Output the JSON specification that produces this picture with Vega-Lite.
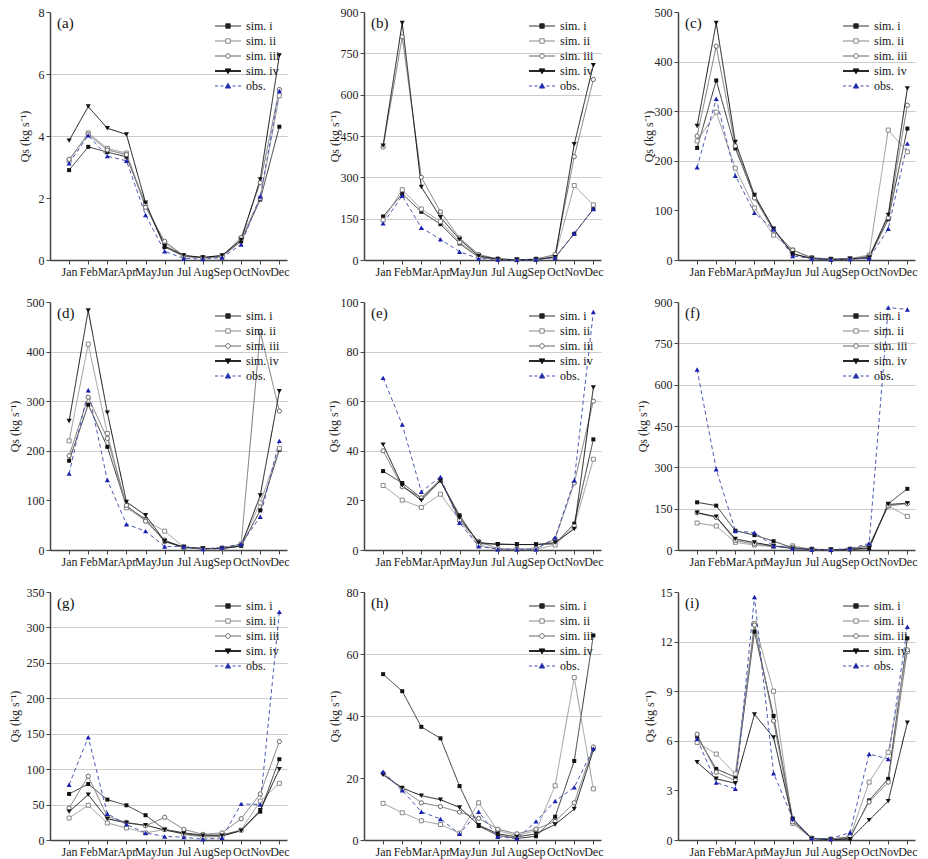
{
"$schema":"https://vega.github.io/schema/vega-lite/v6.json",
"background":"white",
"padding":{"left":8,"top":6,"right":2,"bottom":2},
"config":{
 "font":"Liberation Serif",
 "view":{"stroke":null},
 "axis":{"labelFont":"Liberation Serif","labelFontSize":12,"labelColor":"#222","titleFont":"Liberation Serif","titleFontSize":12,"titleFontWeight":"normal","titleColor":"#222","domainColor":"#444","domainWidth":1.5,"tickColor":"#444","tickSize":4,"labelPadding":2,"titlePadding":5,"labelFlush":false,"labelOverlap":false,"gridColor":"#cccccc","gridWidth":1},
 "legend":{"orient":"top-right","offset":7,"padding":0,"labelFont":"Liberation Serif","labelFontSize":12,"labelColor":"#111","symbolSize":169,"symbolStrokeWidth":1,"symbolOpacity":1,"labelOffset":11,"rowPadding":2}
},
"datasets":{
"a":[
{"m":1,"s":"sim. i","v":2.9},{"m":2,"s":"sim. i","v":3.65},{"m":3,"s":"sim. i","v":3.48},{"m":4,"s":"sim. i","v":3.33},{"m":5,"s":"sim. i","v":1.8},{"m":6,"s":"sim. i","v":0.42},{"m":7,"s":"sim. i","v":0.12},{"m":8,"s":"sim. i","v":0.07},{"m":9,"s":"sim. i","v":0.12},{"m":10,"s":"sim. i","v":0.6},{"m":11,"s":"sim. i","v":1.95},{"m":12,"s":"sim. i","v":4.3},
{"m":1,"s":"sim. ii","v":3.2},{"m":2,"s":"sim. ii","v":4.1},{"m":3,"s":"sim. ii","v":3.6},{"m":4,"s":"sim. ii","v":3.45},{"m":5,"s":"sim. ii","v":1.75},{"m":6,"s":"sim. ii","v":0.55},{"m":7,"s":"sim. ii","v":0.12},{"m":8,"s":"sim. ii","v":0.07},{"m":9,"s":"sim. ii","v":0.1},{"m":10,"s":"sim. ii","v":0.7},{"m":11,"s":"sim. ii","v":2.0},{"m":12,"s":"sim. ii","v":5.3},
{"m":1,"s":"sim. iii","v":3.25},{"m":2,"s":"sim. iii","v":4.05},{"m":3,"s":"sim. iii","v":3.55},{"m":4,"s":"sim. iii","v":3.4},{"m":5,"s":"sim. iii","v":1.7},{"m":6,"s":"sim. iii","v":0.6},{"m":7,"s":"sim. iii","v":0.14},{"m":8,"s":"sim. iii","v":0.08},{"m":9,"s":"sim. iii","v":0.12},{"m":10,"s":"sim. iii","v":0.72},{"m":11,"s":"sim. iii","v":2.5},{"m":12,"s":"sim. iii","v":5.5},
{"m":1,"s":"sim. iv","v":3.85},{"m":2,"s":"sim. iv","v":4.95},{"m":3,"s":"sim. iv","v":4.25},{"m":4,"s":"sim. iv","v":4.05},{"m":5,"s":"sim. iv","v":1.85},{"m":6,"s":"sim. iv","v":0.45},{"m":7,"s":"sim. iv","v":0.15},{"m":8,"s":"sim. iv","v":0.08},{"m":9,"s":"sim. iv","v":0.15},{"m":10,"s":"sim. iv","v":0.65},{"m":11,"s":"sim. iv","v":2.6},{"m":12,"s":"sim. iv","v":6.6},
{"m":1,"s":"obs.","v":3.12},{"m":2,"s":"obs.","v":4.02},{"m":3,"s":"obs.","v":3.35},{"m":4,"s":"obs.","v":3.2},{"m":5,"s":"obs.","v":1.45},{"m":6,"s":"obs.","v":0.28},{"m":7,"s":"obs.","v":0.05},{"m":8,"s":"obs.","v":0.03},{"m":9,"s":"obs.","v":0.08},{"m":10,"s":"obs.","v":0.5},{"m":11,"s":"obs.","v":2.05},{"m":12,"s":"obs.","v":5.45}
],
"b":[
{"m":1,"s":"sim. i","v":158},{"m":2,"s":"sim. i","v":240},{"m":3,"s":"sim. i","v":175},{"m":4,"s":"sim. i","v":130},{"m":5,"s":"sim. i","v":60},{"m":6,"s":"sim. i","v":10},{"m":7,"s":"sim. i","v":3},{"m":8,"s":"sim. i","v":1},{"m":9,"s":"sim. i","v":2},{"m":10,"s":"sim. i","v":10},{"m":11,"s":"sim. i","v":95},{"m":12,"s":"sim. i","v":185},
{"m":1,"s":"sim. ii","v":145},{"m":2,"s":"sim. ii","v":255},{"m":3,"s":"sim. ii","v":185},{"m":4,"s":"sim. ii","v":140},{"m":5,"s":"sim. ii","v":65},{"m":6,"s":"sim. ii","v":12},{"m":7,"s":"sim. ii","v":3},{"m":8,"s":"sim. ii","v":1},{"m":9,"s":"sim. ii","v":3},{"m":10,"s":"sim. ii","v":15},{"m":11,"s":"sim. ii","v":270},{"m":12,"s":"sim. ii","v":200},
{"m":1,"s":"sim. iii","v":410},{"m":2,"s":"sim. iii","v":810},{"m":3,"s":"sim. iii","v":300},{"m":4,"s":"sim. iii","v":175},{"m":5,"s":"sim. iii","v":80},{"m":6,"s":"sim. iii","v":20},{"m":7,"s":"sim. iii","v":4},{"m":8,"s":"sim. iii","v":1},{"m":9,"s":"sim. iii","v":3},{"m":10,"s":"sim. iii","v":20},{"m":11,"s":"sim. iii","v":375},{"m":12,"s":"sim. iii","v":655},
{"m":1,"s":"sim. iv","v":415},{"m":2,"s":"sim. iv","v":860},{"m":3,"s":"sim. iv","v":265},{"m":4,"s":"sim. iv","v":155},{"m":5,"s":"sim. iv","v":75},{"m":6,"s":"sim. iv","v":15},{"m":7,"s":"sim. iv","v":3},{"m":8,"s":"sim. iv","v":1},{"m":9,"s":"sim. iv","v":2},{"m":10,"s":"sim. iv","v":10},{"m":11,"s":"sim. iv","v":420},{"m":12,"s":"sim. iv","v":707},
{"m":1,"s":"obs.","v":133},{"m":2,"s":"obs.","v":233},{"m":3,"s":"obs.","v":117},{"m":4,"s":"obs.","v":75},{"m":5,"s":"obs.","v":30},{"m":6,"s":"obs.","v":5},{"m":7,"s":"obs.","v":2},{"m":8,"s":"obs.","v":1},{"m":9,"s":"obs.","v":2},{"m":10,"s":"obs.","v":8},{"m":11,"s":"obs.","v":97},{"m":12,"s":"obs.","v":185}
],
"c":[
{"m":1,"s":"sim. i","v":226},{"m":2,"s":"sim. i","v":362},{"m":3,"s":"sim. i","v":225},{"m":4,"s":"sim. i","v":128},{"m":5,"s":"sim. i","v":62},{"m":6,"s":"sim. i","v":12},{"m":7,"s":"sim. i","v":3},{"m":8,"s":"sim. i","v":1},{"m":9,"s":"sim. i","v":2},{"m":10,"s":"sim. i","v":4},{"m":11,"s":"sim. i","v":82},{"m":12,"s":"sim. i","v":265},
{"m":1,"s":"sim. ii","v":240},{"m":2,"s":"sim. ii","v":298},{"m":3,"s":"sim. ii","v":185},{"m":4,"s":"sim. ii","v":105},{"m":5,"s":"sim. ii","v":50},{"m":6,"s":"sim. ii","v":20},{"m":7,"s":"sim. ii","v":5},{"m":8,"s":"sim. ii","v":2},{"m":9,"s":"sim. ii","v":3},{"m":10,"s":"sim. ii","v":10},{"m":11,"s":"sim. ii","v":262},{"m":12,"s":"sim. ii","v":218},
{"m":1,"s":"sim. iii","v":250},{"m":2,"s":"sim. iii","v":431},{"m":3,"s":"sim. iii","v":230},{"m":4,"s":"sim. iii","v":125},{"m":5,"s":"sim. iii","v":60},{"m":6,"s":"sim. iii","v":20},{"m":7,"s":"sim. iii","v":4},{"m":8,"s":"sim. iii","v":1},{"m":9,"s":"sim. iii","v":2},{"m":10,"s":"sim. iii","v":8},{"m":11,"s":"sim. iii","v":85},{"m":12,"s":"sim. iii","v":312},
{"m":1,"s":"sim. iv","v":270},{"m":2,"s":"sim. iv","v":478},{"m":3,"s":"sim. iv","v":238},{"m":4,"s":"sim. iv","v":131},{"m":5,"s":"sim. iv","v":63},{"m":6,"s":"sim. iv","v":13},{"m":7,"s":"sim. iv","v":3},{"m":8,"s":"sim. iv","v":1},{"m":9,"s":"sim. iv","v":2},{"m":10,"s":"sim. iv","v":5},{"m":11,"s":"sim. iv","v":91},{"m":12,"s":"sim. iv","v":346},
{"m":1,"s":"obs.","v":187},{"m":2,"s":"obs.","v":325},{"m":3,"s":"obs.","v":170},{"m":4,"s":"obs.","v":95},{"m":5,"s":"obs.","v":62},{"m":6,"s":"obs.","v":8},{"m":7,"s":"obs.","v":3},{"m":8,"s":"obs.","v":1},{"m":9,"s":"obs.","v":2},{"m":10,"s":"obs.","v":3},{"m":11,"s":"obs.","v":63},{"m":12,"s":"obs.","v":235}
],
"d":[
{"m":1,"s":"sim. i","v":180},{"m":2,"s":"sim. i","v":293},{"m":3,"s":"sim. i","v":208},{"m":4,"s":"sim. i","v":88},{"m":5,"s":"sim. i","v":62},{"m":6,"s":"sim. i","v":17},{"m":7,"s":"sim. i","v":5},{"m":8,"s":"sim. i","v":2},{"m":9,"s":"sim. i","v":3},{"m":10,"s":"sim. i","v":8},{"m":11,"s":"sim. i","v":80},{"m":12,"s":"sim. i","v":202},
{"m":1,"s":"sim. ii","v":220},{"m":2,"s":"sim. ii","v":415},{"m":3,"s":"sim. ii","v":235},{"m":4,"s":"sim. ii","v":85},{"m":5,"s":"sim. ii","v":60},{"m":6,"s":"sim. ii","v":38},{"m":7,"s":"sim. ii","v":6},{"m":8,"s":"sim. ii","v":3},{"m":9,"s":"sim. ii","v":4},{"m":10,"s":"sim. ii","v":12},{"m":11,"s":"sim. ii","v":95},{"m":12,"s":"sim. ii","v":205},
{"m":1,"s":"sim. iii","v":190},{"m":2,"s":"sim. iii","v":308},{"m":3,"s":"sim. iii","v":225},{"m":4,"s":"sim. iii","v":90},{"m":5,"s":"sim. iii","v":58},{"m":6,"s":"sim. iii","v":20},{"m":7,"s":"sim. iii","v":5},{"m":8,"s":"sim. iii","v":3},{"m":9,"s":"sim. iii","v":3},{"m":10,"s":"sim. iii","v":10},{"m":11,"s":"sim. iii","v":440},{"m":12,"s":"sim. iii","v":280},
{"m":1,"s":"sim. iv","v":260},{"m":2,"s":"sim. iv","v":483},{"m":3,"s":"sim. iv","v":277},{"m":4,"s":"sim. iv","v":97},{"m":5,"s":"sim. iv","v":70},{"m":6,"s":"sim. iv","v":18},{"m":7,"s":"sim. iv","v":6},{"m":8,"s":"sim. iv","v":3},{"m":9,"s":"sim. iv","v":3},{"m":10,"s":"sim. iv","v":8},{"m":11,"s":"sim. iv","v":110},{"m":12,"s":"sim. iv","v":320},
{"m":1,"s":"obs.","v":154},{"m":2,"s":"obs.","v":322},{"m":3,"s":"obs.","v":141},{"m":4,"s":"obs.","v":52},{"m":5,"s":"obs.","v":38},{"m":6,"s":"obs.","v":7},{"m":7,"s":"obs.","v":7},{"m":8,"s":"obs.","v":2},{"m":9,"s":"obs.","v":5},{"m":10,"s":"obs.","v":12},{"m":11,"s":"obs.","v":67},{"m":12,"s":"obs.","v":220}
],
"e":[
{"m":1,"s":"sim. i","v":31.8},{"m":2,"s":"sim. i","v":27},{"m":3,"s":"sim. i","v":21},{"m":4,"s":"sim. i","v":28},{"m":5,"s":"sim. i","v":14},{"m":6,"s":"sim. i","v":2.5},{"m":7,"s":"sim. i","v":2.4},{"m":8,"s":"sim. i","v":2.2},{"m":9,"s":"sim. i","v":2.2},{"m":10,"s":"sim. i","v":2.5},{"m":11,"s":"sim. i","v":10.6},{"m":12,"s":"sim. i","v":44.6},
{"m":1,"s":"sim. ii","v":26},{"m":2,"s":"sim. ii","v":20.1},{"m":3,"s":"sim. ii","v":17.2},{"m":4,"s":"sim. ii","v":22.5},{"m":5,"s":"sim. ii","v":12},{"m":6,"s":"sim. ii","v":2},{"m":7,"s":"sim. ii","v":0.3},{"m":8,"s":"sim. ii","v":0.2},{"m":9,"s":"sim. ii","v":0.3},{"m":10,"s":"sim. ii","v":2},{"m":11,"s":"sim. ii","v":9.5},{"m":12,"s":"sim. ii","v":36.6},
{"m":1,"s":"sim. iii","v":40},{"m":2,"s":"sim. iii","v":25.5},{"m":3,"s":"sim. iii","v":21},{"m":4,"s":"sim. iii","v":28.5},{"m":5,"s":"sim. iii","v":12},{"m":6,"s":"sim. iii","v":3.5},{"m":7,"s":"sim. iii","v":0.5},{"m":8,"s":"sim. iii","v":0.3},{"m":9,"s":"sim. iii","v":0.5},{"m":10,"s":"sim. iii","v":4.5},{"m":11,"s":"sim. iii","v":27},{"m":12,"s":"sim. iii","v":60},
{"m":1,"s":"sim. iv","v":42.5},{"m":2,"s":"sim. iv","v":26},{"m":3,"s":"sim. iv","v":20},{"m":4,"s":"sim. iv","v":28},{"m":5,"s":"sim. iv","v":13},{"m":6,"s":"sim. iv","v":3},{"m":7,"s":"sim. iv","v":2.3},{"m":8,"s":"sim. iv","v":2.2},{"m":9,"s":"sim. iv","v":2.2},{"m":10,"s":"sim. iv","v":3},{"m":11,"s":"sim. iv","v":8.5},{"m":12,"s":"sim. iv","v":65.5},
{"m":1,"s":"obs.","v":69.4},{"m":2,"s":"obs.","v":50.6},{"m":3,"s":"obs.","v":23.5},{"m":4,"s":"obs.","v":29.5},{"m":5,"s":"obs.","v":11},{"m":6,"s":"obs.","v":1.5},{"m":7,"s":"obs.","v":0.3},{"m":8,"s":"obs.","v":0.3},{"m":9,"s":"obs.","v":0.3},{"m":10,"s":"obs.","v":5},{"m":11,"s":"obs.","v":28},{"m":12,"s":"obs.","v":96}
],
"f":[
{"m":1,"s":"sim. i","v":173},{"m":2,"s":"sim. i","v":161},{"m":3,"s":"sim. i","v":70},{"m":4,"s":"sim. i","v":54},{"m":5,"s":"sim. i","v":32},{"m":6,"s":"sim. i","v":8},{"m":7,"s":"sim. i","v":2},{"m":8,"s":"sim. i","v":1},{"m":9,"s":"sim. i","v":2},{"m":10,"s":"sim. i","v":5},{"m":11,"s":"sim. i","v":168},{"m":12,"s":"sim. i","v":222},
{"m":1,"s":"sim. ii","v":98},{"m":2,"s":"sim. ii","v":87},{"m":3,"s":"sim. ii","v":28},{"m":4,"s":"sim. ii","v":18},{"m":5,"s":"sim. ii","v":12},{"m":6,"s":"sim. ii","v":15},{"m":7,"s":"sim. ii","v":3},{"m":8,"s":"sim. ii","v":1},{"m":9,"s":"sim. ii","v":3},{"m":10,"s":"sim. ii","v":18},{"m":11,"s":"sim. ii","v":160},{"m":12,"s":"sim. ii","v":122},
{"m":1,"s":"sim. iii","v":135},{"m":2,"s":"sim. iii","v":118},{"m":3,"s":"sim. iii","v":35},{"m":4,"s":"sim. iii","v":22},{"m":5,"s":"sim. iii","v":13},{"m":6,"s":"sim. iii","v":10},{"m":7,"s":"sim. iii","v":3},{"m":8,"s":"sim. iii","v":1},{"m":9,"s":"sim. iii","v":3},{"m":10,"s":"sim. iii","v":15},{"m":11,"s":"sim. iii","v":160},{"m":12,"s":"sim. iii","v":168},
{"m":1,"s":"sim. iv","v":135},{"m":2,"s":"sim. iv","v":121},{"m":3,"s":"sim. iv","v":40},{"m":4,"s":"sim. iv","v":27},{"m":5,"s":"sim. iv","v":15},{"m":6,"s":"sim. iv","v":5},{"m":7,"s":"sim. iv","v":2},{"m":8,"s":"sim. iv","v":1},{"m":9,"s":"sim. iv","v":2},{"m":10,"s":"sim. iv","v":8},{"m":11,"s":"sim. iv","v":165},{"m":12,"s":"sim. iv","v":170},
{"m":1,"s":"obs.","v":655},{"m":2,"s":"obs.","v":293},{"m":3,"s":"obs.","v":69},{"m":4,"s":"obs.","v":63},{"m":5,"s":"obs.","v":15},{"m":6,"s":"obs.","v":5},{"m":7,"s":"obs.","v":2},{"m":8,"s":"obs.","v":1},{"m":9,"s":"obs.","v":5},{"m":10,"s":"obs.","v":24},{"m":11,"s":"obs.","v":880},{"m":12,"s":"obs.","v":873}
],
"g":[
{"m":1,"s":"sim. i","v":65},{"m":2,"s":"sim. i","v":79},{"m":3,"s":"sim. i","v":57},{"m":4,"s":"sim. i","v":49},{"m":5,"s":"sim. i","v":35},{"m":6,"s":"sim. i","v":15},{"m":7,"s":"sim. i","v":10},{"m":8,"s":"sim. i","v":7},{"m":9,"s":"sim. i","v":7},{"m":10,"s":"sim. i","v":14},{"m":11,"s":"sim. i","v":40},{"m":12,"s":"sim. i","v":114},
{"m":1,"s":"sim. ii","v":31},{"m":2,"s":"sim. ii","v":49},{"m":3,"s":"sim. ii","v":24},{"m":4,"s":"sim. ii","v":17},{"m":5,"s":"sim. ii","v":10},{"m":6,"s":"sim. ii","v":15},{"m":7,"s":"sim. ii","v":8},{"m":8,"s":"sim. ii","v":4},{"m":9,"s":"sim. ii","v":5},{"m":10,"s":"sim. ii","v":14},{"m":11,"s":"sim. ii","v":55},{"m":12,"s":"sim. ii","v":80},
{"m":1,"s":"sim. iii","v":45},{"m":2,"s":"sim. iii","v":90},{"m":3,"s":"sim. iii","v":33},{"m":4,"s":"sim. iii","v":25},{"m":5,"s":"sim. iii","v":20},{"m":6,"s":"sim. iii","v":32},{"m":7,"s":"sim. iii","v":15},{"m":8,"s":"sim. iii","v":8},{"m":9,"s":"sim. iii","v":10},{"m":10,"s":"sim. iii","v":30},{"m":11,"s":"sim. iii","v":65},{"m":12,"s":"sim. iii","v":139},
{"m":1,"s":"sim. iv","v":40},{"m":2,"s":"sim. iv","v":64},{"m":3,"s":"sim. iv","v":30},{"m":4,"s":"sim. iv","v":24},{"m":5,"s":"sim. iv","v":21},{"m":6,"s":"sim. iv","v":14},{"m":7,"s":"sim. iv","v":9},{"m":8,"s":"sim. iv","v":6},{"m":9,"s":"sim. iv","v":6},{"m":10,"s":"sim. iv","v":13},{"m":11,"s":"sim. iv","v":42},{"m":12,"s":"sim. iv","v":100},
{"m":1,"s":"obs.","v":78},{"m":2,"s":"obs.","v":145},{"m":3,"s":"obs.","v":37},{"m":4,"s":"obs.","v":22},{"m":5,"s":"obs.","v":10},{"m":6,"s":"obs.","v":5},{"m":7,"s":"obs.","v":4},{"m":8,"s":"obs.","v":1},{"m":9,"s":"obs.","v":3},{"m":10,"s":"obs.","v":51},{"m":11,"s":"obs.","v":50},{"m":12,"s":"obs.","v":322}
],
"h":[
{"m":1,"s":"sim. i","v":53.5},{"m":2,"s":"sim. i","v":48},{"m":3,"s":"sim. i","v":36.5},{"m":4,"s":"sim. i","v":32.8},{"m":5,"s":"sim. i","v":17.4},{"m":6,"s":"sim. i","v":4.5},{"m":7,"s":"sim. i","v":1.5},{"m":8,"s":"sim. i","v":0.5},{"m":9,"s":"sim. i","v":1.2},{"m":10,"s":"sim. i","v":7.5},{"m":11,"s":"sim. i","v":25.5},{"m":12,"s":"sim. i","v":66},
{"m":1,"s":"sim. ii","v":11.8},{"m":2,"s":"sim. ii","v":8.8},{"m":3,"s":"sim. ii","v":6.2},{"m":4,"s":"sim. ii","v":5},{"m":5,"s":"sim. ii","v":2.2},{"m":6,"s":"sim. ii","v":12},{"m":7,"s":"sim. ii","v":3},{"m":8,"s":"sim. ii","v":1.5},{"m":9,"s":"sim. ii","v":3},{"m":10,"s":"sim. ii","v":17.5},{"m":11,"s":"sim. ii","v":52.4},{"m":12,"s":"sim. ii","v":16.5},
{"m":1,"s":"sim. iii","v":21.5},{"m":2,"s":"sim. iii","v":16.5},{"m":3,"s":"sim. iii","v":12},{"m":4,"s":"sim. iii","v":10.8},{"m":5,"s":"sim. iii","v":9},{"m":6,"s":"sim. iii","v":7},{"m":7,"s":"sim. iii","v":3.5},{"m":8,"s":"sim. iii","v":2},{"m":9,"s":"sim. iii","v":3.5},{"m":10,"s":"sim. iii","v":6},{"m":11,"s":"sim. iii","v":12},{"m":12,"s":"sim. iii","v":30},
{"m":1,"s":"sim. iv","v":21},{"m":2,"s":"sim. iv","v":16.8},{"m":3,"s":"sim. iv","v":14.3},{"m":4,"s":"sim. iv","v":13},{"m":5,"s":"sim. iv","v":10.5},{"m":6,"s":"sim. iv","v":4.8},{"m":7,"s":"sim. iv","v":2},{"m":8,"s":"sim. iv","v":1},{"m":9,"s":"sim. iv","v":2},{"m":10,"s":"sim. iv","v":5},{"m":11,"s":"sim. iv","v":10},{"m":12,"s":"sim. iv","v":29},
{"m":1,"s":"obs.","v":22},{"m":2,"s":"obs.","v":16},{"m":3,"s":"obs.","v":9.1},{"m":4,"s":"obs.","v":6.8},{"m":5,"s":"obs.","v":2},{"m":6,"s":"obs.","v":9.1},{"m":7,"s":"obs.","v":1},{"m":8,"s":"obs.","v":0.5},{"m":9,"s":"obs.","v":6},{"m":10,"s":"obs.","v":12.6},{"m":11,"s":"obs.","v":17},{"m":12,"s":"obs.","v":29.5}
],
"i":[
{"m":1,"s":"sim. i","v":6.25},{"m":2,"s":"sim. i","v":4.3},{"m":3,"s":"sim. i","v":3.8},{"m":4,"s":"sim. i","v":12.6},{"m":5,"s":"sim. i","v":7.5},{"m":6,"s":"sim. i","v":1.3},{"m":7,"s":"sim. i","v":0.1},{"m":8,"s":"sim. i","v":0.05},{"m":9,"s":"sim. i","v":0.1},{"m":10,"s":"sim. i","v":2.4},{"m":11,"s":"sim. i","v":3.7},{"m":12,"s":"sim. i","v":12.2},
{"m":1,"s":"sim. ii","v":5.9},{"m":2,"s":"sim. ii","v":5.2},{"m":3,"s":"sim. ii","v":4.0},{"m":4,"s":"sim. ii","v":13.1},{"m":5,"s":"sim. ii","v":9.0},{"m":6,"s":"sim. ii","v":1.0},{"m":7,"s":"sim. ii","v":0.1},{"m":8,"s":"sim. ii","v":0.05},{"m":9,"s":"sim. ii","v":0.2},{"m":10,"s":"sim. ii","v":3.5},{"m":11,"s":"sim. ii","v":5.3},{"m":12,"s":"sim. ii","v":11.4},
{"m":1,"s":"sim. iii","v":6.4},{"m":2,"s":"sim. iii","v":4.1},{"m":3,"s":"sim. iii","v":3.6},{"m":4,"s":"sim. iii","v":13.0},{"m":5,"s":"sim. iii","v":7.2},{"m":6,"s":"sim. iii","v":1.1},{"m":7,"s":"sim. iii","v":0.1},{"m":8,"s":"sim. iii","v":0.05},{"m":9,"s":"sim. iii","v":0.2},{"m":10,"s":"sim. iii","v":2.3},{"m":11,"s":"sim. iii","v":3.5},{"m":12,"s":"sim. iii","v":11.5},
{"m":1,"s":"sim. iv","v":4.7},{"m":2,"s":"sim. iv","v":3.7},{"m":3,"s":"sim. iv","v":3.43},{"m":4,"s":"sim. iv","v":7.6},{"m":5,"s":"sim. iv","v":6.2},{"m":6,"s":"sim. iv","v":1.2},{"m":7,"s":"sim. iv","v":0.08},{"m":8,"s":"sim. iv","v":0.02},{"m":9,"s":"sim. iv","v":0.05},{"m":10,"s":"sim. iv","v":1.2},{"m":11,"s":"sim. iv","v":2.35},{"m":12,"s":"sim. iv","v":7.1},
{"m":1,"s":"obs.","v":6.1},{"m":2,"s":"obs.","v":3.47},{"m":3,"s":"obs.","v":3.1},{"m":4,"s":"obs.","v":14.7},{"m":5,"s":"obs.","v":4.04},{"m":6,"s":"obs.","v":1.3},{"m":7,"s":"obs.","v":0.1},{"m":8,"s":"obs.","v":0.08},{"m":9,"s":"obs.","v":0.45},{"m":10,"s":"obs.","v":5.2},{"m":11,"s":"obs.","v":4.9},{"m":12,"s":"obs.","v":12.9}
]
},
"columns":3,
"spacing":{"row":42,"column":77},
"bounds":"flush",
"resolve":{"scale":{"shape":"independent","fill":"independent","stroke":"independent","color":"independent","strokeDash":"independent","strokeWidth":"independent"}},
"concat":[
{"data":{"name":"a"},"width":237,"height":248,"title":{"text":"(a)","anchor":"start","frame":"group","offset":-25,"dx":7,"fontWeight":"normal","font":"Liberation Serif","fontSize":15,"color":"#111"},
 "encoding":{"x":{"field":"m","type":"quantitative","scale":{"domain":[0,12.4]},"axis":{"values":[1,2,3,4,5,6,7,8,9,10,11,12],"labelExpr":"['Jan','Feb','Mar','Apr','May','Jun','Jul','Aug','Sep','Oct','Nov','Dec'][datum.value-1]","title":null,"grid":false}},
  "y":{"field":"v","type":"quantitative","scale":{"domain":[0,8]},"axis":{"values":[0,2,4,6,8],"title":"Qs (kg s⁻¹)","titleX":-19,"grid":true,"gridOpacity":{"condition":{"test":"datum.value>=4 && datum.value<8","value":1},"value":0}}}},
 "layer":[
  {"mark":{"type":"line"},"encoding":{"color":{"field":"s","type":"nominal","scale":{"range":["#4a5ab0","#333333","#999999","#777777","#111111"]},"legend":null},"strokeDash":{"field":"s","type":"nominal","scale":{"range":[[4,3],[1,0],[1,0],[1,0],[1,0]]},"legend":null},"strokeWidth":{"field":"s","type":"nominal","scale":{"range":[1,1,1,1,1.8]},"legend":null}}},
  {"transform":[{"filter":"datum.s=='sim. i'"}],"mark":{"type":"point","shape":"square","filled":true,"color":"#111111","size":16,"opacity":1}},
  {"transform":[{"filter":"datum.s=='sim. ii'"}],"mark":{"type":"point","shape":"square","fill":"#ffffff","stroke":"#888888","strokeWidth":1,"size":16,"opacity":1}},
  {"transform":[{"filter":"datum.s=='sim. iii'"}],"mark":{"type":"point","shape":"circle","fill":"#ffffff","stroke":"#666666","strokeWidth":1,"size":18,"opacity":1}},
  {"transform":[{"filter":"datum.s=='sim. iv'"}],"mark":{"type":"point","shape":"triangle-down","filled":true,"color":"#111111","size":26,"opacity":1}},
  {"transform":[{"filter":"datum.s=='obs.'"}],"mark":{"type":"point","shape":"triangle-up","filled":true,"color":"#1c22b0","size":26,"opacity":1}},
  {"transform":[{"filter":"datum.m>99"}],"mark":{"type":"point","opacity":1},"encoding":{"shape":{"field":"s","type":"nominal","scale":{"domain":["sim. i","sim. ii","sim. iii","sim. iv","obs."],"range":["M-2,0H2M-0.34,-0.34H0.34V0.34H-0.34Z","M-2,0H-0.34M0.34,0H2M-0.34,-0.34H0.34V0.34H-0.34Z","M-2,0H-0.36M0.36,0H2M-0.36,0A0.36,0.36,0,1,0,0.36,0A0.36,0.36,0,1,0,-0.36,0Z","M-2,-0.06H2M-2,0.06H2M-0.42,-0.32H0.42L0,0.42Z","M-2,0H-1.55M-1.15,0H-0.7M0.7,0H1.15M1.55,0H2M-0.42,0.32H0.42L0,-0.42Z"]},"legend":{"title":null}},"fill":{"field":"s","type":"nominal","scale":{"domain":["sim. i","sim. ii","sim. iii","sim. iv","obs."],"range":["#111111","#ffffff","#ffffff","#111111","#1c22b0"]},"legend":{"title":null}},"stroke":{"field":"s","type":"nominal","scale":{"domain":["sim. i","sim. ii","sim. iii","sim. iv","obs."],"range":["#333333","#888888","#666666","#111111","#3a48b0"]},"legend":{"title":null}}}}
 ]},
{"data":{"name":"b"},"width":237,"height":248,"title":{"text":"(b)","anchor":"start","frame":"group","offset":-25,"dx":7,"fontWeight":"normal","font":"Liberation Serif","fontSize":15,"color":"#111"},
 "encoding":{"x":{"field":"m","type":"quantitative","scale":{"domain":[0,12.4]},"axis":{"values":[1,2,3,4,5,6,7,8,9,10,11,12],"labelExpr":"['Jan','Feb','Mar','Apr','May','Jun','Jul','Aug','Sep','Oct','Nov','Dec'][datum.value-1]","title":null,"grid":false}},
  "y":{"field":"v","type":"quantitative","scale":{"domain":[0,900]},"axis":{"values":[0,150,300,450,600,750,900],"title":"Qs (kg s⁻¹)","titleX":-23,"grid":true,"gridOpacity":{"condition":{"test":"datum.value>=150 && datum.value<900","value":1},"value":0}}}},
 "layer":[
  {"mark":{"type":"line"},"encoding":{"color":{"field":"s","type":"nominal","scale":{"range":["#4a5ab0","#333333","#999999","#777777","#111111"]},"legend":null},"strokeDash":{"field":"s","type":"nominal","scale":{"range":[[4,3],[1,0],[1,0],[1,0],[1,0]]},"legend":null},"strokeWidth":{"field":"s","type":"nominal","scale":{"range":[1,1,1,1,1.8]},"legend":null}}},
  {"transform":[{"filter":"datum.s=='sim. i'"}],"mark":{"type":"point","shape":"square","filled":true,"color":"#111111","size":16,"opacity":1}},
  {"transform":[{"filter":"datum.s=='sim. ii'"}],"mark":{"type":"point","shape":"square","fill":"#ffffff","stroke":"#888888","strokeWidth":1,"size":16,"opacity":1}},
  {"transform":[{"filter":"datum.s=='sim. iii'"}],"mark":{"type":"point","shape":"circle","fill":"#ffffff","stroke":"#666666","strokeWidth":1,"size":18,"opacity":1}},
  {"transform":[{"filter":"datum.s=='sim. iv'"}],"mark":{"type":"point","shape":"triangle-down","filled":true,"color":"#111111","size":26,"opacity":1}},
  {"transform":[{"filter":"datum.s=='obs.'"}],"mark":{"type":"point","shape":"triangle-up","filled":true,"color":"#1c22b0","size":26,"opacity":1}},
  {"transform":[{"filter":"datum.m>99"}],"mark":{"type":"point","opacity":1},"encoding":{"shape":{"field":"s","type":"nominal","scale":{"domain":["sim. i","sim. ii","sim. iii","sim. iv","obs."],"range":["M-2,0H2M-0.34,-0.34H0.34V0.34H-0.34Z","M-2,0H-0.34M0.34,0H2M-0.34,-0.34H0.34V0.34H-0.34Z","M-2,0H-0.36M0.36,0H2M-0.36,0A0.36,0.36,0,1,0,0.36,0A0.36,0.36,0,1,0,-0.36,0Z","M-2,-0.06H2M-2,0.06H2M-0.42,-0.32H0.42L0,0.42Z","M-2,0H-1.55M-1.15,0H-0.7M0.7,0H1.15M1.55,0H2M-0.42,0.32H0.42L0,-0.42Z"]},"legend":{"title":null}},"fill":{"field":"s","type":"nominal","scale":{"domain":["sim. i","sim. ii","sim. iii","sim. iv","obs."],"range":["#111111","#ffffff","#ffffff","#111111","#1c22b0"]},"legend":{"title":null}},"stroke":{"field":"s","type":"nominal","scale":{"domain":["sim. i","sim. ii","sim. iii","sim. iv","obs."],"range":["#333333","#888888","#666666","#111111","#3a48b0"]},"legend":{"title":null}}}}
 ]},
{"data":{"name":"c"},"width":237,"height":248,"title":{"text":"(c)","anchor":"start","frame":"group","offset":-25,"dx":7,"fontWeight":"normal","font":"Liberation Serif","fontSize":15,"color":"#111"},
 "encoding":{"x":{"field":"m","type":"quantitative","scale":{"domain":[0,12.4]},"axis":{"values":[1,2,3,4,5,6,7,8,9,10,11,12],"labelExpr":"['Jan','Feb','Mar','Apr','May','Jun','Jul','Aug','Sep','Oct','Nov','Dec'][datum.value-1]","title":null,"grid":false}},
  "y":{"field":"v","type":"quantitative","scale":{"domain":[0,500]},"axis":{"values":[0,100,200,300,400,500],"title":"Qs (kg s⁻¹)","titleX":-23,"grid":true,"gridOpacity":{"condition":{"test":"datum.value>=200 && datum.value<500","value":1},"value":0}}}},
 "layer":[
  {"mark":{"type":"line"},"encoding":{"color":{"field":"s","type":"nominal","scale":{"range":["#4a5ab0","#333333","#999999","#777777","#111111"]},"legend":null},"strokeDash":{"field":"s","type":"nominal","scale":{"range":[[4,3],[1,0],[1,0],[1,0],[1,0]]},"legend":null},"strokeWidth":{"field":"s","type":"nominal","scale":{"range":[1,1,1,1,1.8]},"legend":null}}},
  {"transform":[{"filter":"datum.s=='sim. i'"}],"mark":{"type":"point","shape":"square","filled":true,"color":"#111111","size":16,"opacity":1}},
  {"transform":[{"filter":"datum.s=='sim. ii'"}],"mark":{"type":"point","shape":"square","fill":"#ffffff","stroke":"#888888","strokeWidth":1,"size":16,"opacity":1}},
  {"transform":[{"filter":"datum.s=='sim. iii'"}],"mark":{"type":"point","shape":"circle","fill":"#ffffff","stroke":"#666666","strokeWidth":1,"size":18,"opacity":1}},
  {"transform":[{"filter":"datum.s=='sim. iv'"}],"mark":{"type":"point","shape":"triangle-down","filled":true,"color":"#111111","size":26,"opacity":1}},
  {"transform":[{"filter":"datum.s=='obs.'"}],"mark":{"type":"point","shape":"triangle-up","filled":true,"color":"#1c22b0","size":26,"opacity":1}},
  {"transform":[{"filter":"datum.m>99"}],"mark":{"type":"point","opacity":1},"encoding":{"shape":{"field":"s","type":"nominal","scale":{"domain":["sim. i","sim. ii","sim. iii","sim. iv","obs."],"range":["M-2,0H2M-0.34,-0.34H0.34V0.34H-0.34Z","M-2,0H-0.34M0.34,0H2M-0.34,-0.34H0.34V0.34H-0.34Z","M-2,0H-0.36M0.36,0H2M-0.36,0A0.36,0.36,0,1,0,0.36,0A0.36,0.36,0,1,0,-0.36,0Z","M-2,-0.06H2M-2,0.06H2M-0.42,-0.32H0.42L0,0.42Z","M-2,0H-1.55M-1.15,0H-0.7M0.7,0H1.15M1.55,0H2M-0.42,0.32H0.42L0,-0.42Z"]},"legend":{"title":null}},"fill":{"field":"s","type":"nominal","scale":{"domain":["sim. i","sim. ii","sim. iii","sim. iv","obs."],"range":["#111111","#ffffff","#ffffff","#111111","#1c22b0"]},"legend":{"title":null}},"stroke":{"field":"s","type":"nominal","scale":{"domain":["sim. i","sim. ii","sim. iii","sim. iv","obs."],"range":["#333333","#888888","#666666","#111111","#3a48b0"]},"legend":{"title":null}}}}
 ]},
{"data":{"name":"d"},"width":237,"height":248,"title":{"text":"(d)","anchor":"start","frame":"group","offset":-25,"dx":7,"fontWeight":"normal","font":"Liberation Serif","fontSize":15,"color":"#111"},
 "encoding":{"x":{"field":"m","type":"quantitative","scale":{"domain":[0,12.4]},"axis":{"values":[1,2,3,4,5,6,7,8,9,10,11,12],"labelExpr":"['Jan','Feb','Mar','Apr','May','Jun','Jul','Aug','Sep','Oct','Nov','Dec'][datum.value-1]","title":null,"grid":false}},
  "y":{"field":"v","type":"quantitative","scale":{"domain":[0,500]},"axis":{"values":[0,100,200,300,400,500],"title":"Qs (kg s⁻¹)","titleX":-29,"grid":true,"gridOpacity":{"condition":{"test":"datum.value>=200 && datum.value<500","value":1},"value":0}}}},
 "layer":[
  {"mark":{"type":"line"},"encoding":{"color":{"field":"s","type":"nominal","scale":{"range":["#4a5ab0","#333333","#999999","#777777","#111111"]},"legend":null},"strokeDash":{"field":"s","type":"nominal","scale":{"range":[[4,3],[1,0],[1,0],[1,0],[1,0]]},"legend":null},"strokeWidth":{"field":"s","type":"nominal","scale":{"range":[1,1,1,1,1.8]},"legend":null}}},
  {"transform":[{"filter":"datum.s=='sim. i'"}],"mark":{"type":"point","shape":"square","filled":true,"color":"#111111","size":16,"opacity":1}},
  {"transform":[{"filter":"datum.s=='sim. ii'"}],"mark":{"type":"point","shape":"square","fill":"#ffffff","stroke":"#888888","strokeWidth":1,"size":16,"opacity":1}},
  {"transform":[{"filter":"datum.s=='sim. iii'"}],"mark":{"type":"point","shape":"circle","fill":"#ffffff","stroke":"#666666","strokeWidth":1,"size":18,"opacity":1}},
  {"transform":[{"filter":"datum.s=='sim. iv'"}],"mark":{"type":"point","shape":"triangle-down","filled":true,"color":"#111111","size":26,"opacity":1}},
  {"transform":[{"filter":"datum.s=='obs.'"}],"mark":{"type":"point","shape":"triangle-up","filled":true,"color":"#1c22b0","size":26,"opacity":1}},
  {"transform":[{"filter":"datum.m>99"}],"mark":{"type":"point","opacity":1},"encoding":{"shape":{"field":"s","type":"nominal","scale":{"domain":["sim. i","sim. ii","sim. iii","sim. iv","obs."],"range":["M-2,0H2M-0.34,-0.34H0.34V0.34H-0.34Z","M-2,0H-0.34M0.34,0H2M-0.34,-0.34H0.34V0.34H-0.34Z","M-2,0H-0.36M0.36,0H2M-0.36,0A0.36,0.36,0,1,0,0.36,0A0.36,0.36,0,1,0,-0.36,0Z","M-2,-0.06H2M-2,0.06H2M-0.42,-0.32H0.42L0,0.42Z","M-2,0H-1.55M-1.15,0H-0.7M0.7,0H1.15M1.55,0H2M-0.42,0.32H0.42L0,-0.42Z"]},"legend":{"title":null}},"fill":{"field":"s","type":"nominal","scale":{"domain":["sim. i","sim. ii","sim. iii","sim. iv","obs."],"range":["#111111","#ffffff","#ffffff","#111111","#1c22b0"]},"legend":{"title":null}},"stroke":{"field":"s","type":"nominal","scale":{"domain":["sim. i","sim. ii","sim. iii","sim. iv","obs."],"range":["#333333","#888888","#666666","#111111","#3a48b0"]},"legend":{"title":null}}}}
 ]},
{"data":{"name":"e"},"width":237,"height":248,"title":{"text":"(e)","anchor":"start","frame":"group","offset":-25,"dx":7,"fontWeight":"normal","font":"Liberation Serif","fontSize":15,"color":"#111"},
 "encoding":{"x":{"field":"m","type":"quantitative","scale":{"domain":[0,12.4]},"axis":{"values":[1,2,3,4,5,6,7,8,9,10,11,12],"labelExpr":"['Jan','Feb','Mar','Apr','May','Jun','Jul','Aug','Sep','Oct','Nov','Dec'][datum.value-1]","title":null,"grid":false}},
  "y":{"field":"v","type":"quantitative","scale":{"domain":[0,100]},"axis":{"values":[0,20,40,60,80,100],"title":"Qs (kg s⁻¹)","titleX":-24,"grid":true,"gridOpacity":{"condition":{"test":"datum.value>=40 && datum.value<100","value":1},"value":0}}}},
 "layer":[
  {"mark":{"type":"line"},"encoding":{"color":{"field":"s","type":"nominal","scale":{"range":["#4a5ab0","#333333","#999999","#777777","#111111"]},"legend":null},"strokeDash":{"field":"s","type":"nominal","scale":{"range":[[4,3],[1,0],[1,0],[1,0],[1,0]]},"legend":null},"strokeWidth":{"field":"s","type":"nominal","scale":{"range":[1,1,1,1,1.8]},"legend":null}}},
  {"transform":[{"filter":"datum.s=='sim. i'"}],"mark":{"type":"point","shape":"square","filled":true,"color":"#111111","size":16,"opacity":1}},
  {"transform":[{"filter":"datum.s=='sim. ii'"}],"mark":{"type":"point","shape":"square","fill":"#ffffff","stroke":"#888888","strokeWidth":1,"size":16,"opacity":1}},
  {"transform":[{"filter":"datum.s=='sim. iii'"}],"mark":{"type":"point","shape":"circle","fill":"#ffffff","stroke":"#666666","strokeWidth":1,"size":18,"opacity":1}},
  {"transform":[{"filter":"datum.s=='sim. iv'"}],"mark":{"type":"point","shape":"triangle-down","filled":true,"color":"#111111","size":26,"opacity":1}},
  {"transform":[{"filter":"datum.s=='obs.'"}],"mark":{"type":"point","shape":"triangle-up","filled":true,"color":"#1c22b0","size":26,"opacity":1}},
  {"transform":[{"filter":"datum.m>99"}],"mark":{"type":"point","opacity":1},"encoding":{"shape":{"field":"s","type":"nominal","scale":{"domain":["sim. i","sim. ii","sim. iii","sim. iv","obs."],"range":["M-2,0H2M-0.34,-0.34H0.34V0.34H-0.34Z","M-2,0H-0.34M0.34,0H2M-0.34,-0.34H0.34V0.34H-0.34Z","M-2,0H-0.36M0.36,0H2M-0.36,0A0.36,0.36,0,1,0,0.36,0A0.36,0.36,0,1,0,-0.36,0Z","M-2,-0.06H2M-2,0.06H2M-0.42,-0.32H0.42L0,0.42Z","M-2,0H-1.55M-1.15,0H-0.7M0.7,0H1.15M1.55,0H2M-0.42,0.32H0.42L0,-0.42Z"]},"legend":{"title":null}},"fill":{"field":"s","type":"nominal","scale":{"domain":["sim. i","sim. ii","sim. iii","sim. iv","obs."],"range":["#111111","#ffffff","#ffffff","#111111","#1c22b0"]},"legend":{"title":null}},"stroke":{"field":"s","type":"nominal","scale":{"domain":["sim. i","sim. ii","sim. iii","sim. iv","obs."],"range":["#333333","#888888","#666666","#111111","#3a48b0"]},"legend":{"title":null}}}}
 ]},
{"data":{"name":"f"},"width":237,"height":248,"title":{"text":"(f)","anchor":"start","frame":"group","offset":-25,"dx":7,"fontWeight":"normal","font":"Liberation Serif","fontSize":15,"color":"#111"},
 "encoding":{"x":{"field":"m","type":"quantitative","scale":{"domain":[0,12.4]},"axis":{"values":[1,2,3,4,5,6,7,8,9,10,11,12],"labelExpr":"['Jan','Feb','Mar','Apr','May','Jun','Jul','Aug','Sep','Oct','Nov','Dec'][datum.value-1]","title":null,"grid":false}},
  "y":{"field":"v","type":"quantitative","scale":{"domain":[0,900]},"axis":{"values":[0,150,300,450,600,750,900],"title":"Qs (kg s⁻¹)","titleX":-29,"grid":true,"gridOpacity":{"condition":{"test":"datum.value>=150 && datum.value<900","value":1},"value":0}}}},
 "layer":[
  {"mark":{"type":"line"},"encoding":{"color":{"field":"s","type":"nominal","scale":{"range":["#4a5ab0","#333333","#999999","#777777","#111111"]},"legend":null},"strokeDash":{"field":"s","type":"nominal","scale":{"range":[[4,3],[1,0],[1,0],[1,0],[1,0]]},"legend":null},"strokeWidth":{"field":"s","type":"nominal","scale":{"range":[1,1,1,1,1.8]},"legend":null}}},
  {"transform":[{"filter":"datum.s=='sim. i'"}],"mark":{"type":"point","shape":"square","filled":true,"color":"#111111","size":16,"opacity":1}},
  {"transform":[{"filter":"datum.s=='sim. ii'"}],"mark":{"type":"point","shape":"square","fill":"#ffffff","stroke":"#888888","strokeWidth":1,"size":16,"opacity":1}},
  {"transform":[{"filter":"datum.s=='sim. iii'"}],"mark":{"type":"point","shape":"circle","fill":"#ffffff","stroke":"#666666","strokeWidth":1,"size":18,"opacity":1}},
  {"transform":[{"filter":"datum.s=='sim. iv'"}],"mark":{"type":"point","shape":"triangle-down","filled":true,"color":"#111111","size":26,"opacity":1}},
  {"transform":[{"filter":"datum.s=='obs.'"}],"mark":{"type":"point","shape":"triangle-up","filled":true,"color":"#1c22b0","size":26,"opacity":1}},
  {"transform":[{"filter":"datum.m>99"}],"mark":{"type":"point","opacity":1},"encoding":{"shape":{"field":"s","type":"nominal","scale":{"domain":["sim. i","sim. ii","sim. iii","sim. iv","obs."],"range":["M-2,0H2M-0.34,-0.34H0.34V0.34H-0.34Z","M-2,0H-0.34M0.34,0H2M-0.34,-0.34H0.34V0.34H-0.34Z","M-2,0H-0.36M0.36,0H2M-0.36,0A0.36,0.36,0,1,0,0.36,0A0.36,0.36,0,1,0,-0.36,0Z","M-2,-0.06H2M-2,0.06H2M-0.42,-0.32H0.42L0,0.42Z","M-2,0H-1.55M-1.15,0H-0.7M0.7,0H1.15M1.55,0H2M-0.42,0.32H0.42L0,-0.42Z"]},"legend":{"title":null}},"fill":{"field":"s","type":"nominal","scale":{"domain":["sim. i","sim. ii","sim. iii","sim. iv","obs."],"range":["#111111","#ffffff","#ffffff","#111111","#1c22b0"]},"legend":{"title":null}},"stroke":{"field":"s","type":"nominal","scale":{"domain":["sim. i","sim. ii","sim. iii","sim. iv","obs."],"range":["#333333","#888888","#666666","#111111","#3a48b0"]},"legend":{"title":null}}}}
 ]},
{"data":{"name":"g"},"width":237,"height":248,"title":{"text":"(g)","anchor":"start","frame":"group","offset":-25,"dx":7,"fontWeight":"normal","font":"Liberation Serif","fontSize":15,"color":"#111"},
 "encoding":{"x":{"field":"m","type":"quantitative","scale":{"domain":[0,12.4]},"axis":{"values":[1,2,3,4,5,6,7,8,9,10,11,12],"labelExpr":"['Jan','Feb','Mar','Apr','May','Jun','Jul','Aug','Sep','Oct','Nov','Dec'][datum.value-1]","title":null,"grid":false}},
  "y":{"field":"v","type":"quantitative","scale":{"domain":[0,350]},"axis":{"values":[0,50,100,150,200,250,300,350],"title":"Qs (kg s⁻¹)","titleX":-29,"grid":true,"gridOpacity":{"condition":{"test":"datum.value>=50 && datum.value<350","value":1},"value":0}}}},
 "layer":[
  {"mark":{"type":"line"},"encoding":{"color":{"field":"s","type":"nominal","scale":{"range":["#4a5ab0","#333333","#999999","#777777","#111111"]},"legend":null},"strokeDash":{"field":"s","type":"nominal","scale":{"range":[[4,3],[1,0],[1,0],[1,0],[1,0]]},"legend":null},"strokeWidth":{"field":"s","type":"nominal","scale":{"range":[1,1,1,1,1.8]},"legend":null}}},
  {"transform":[{"filter":"datum.s=='sim. i'"}],"mark":{"type":"point","shape":"square","filled":true,"color":"#111111","size":16,"opacity":1}},
  {"transform":[{"filter":"datum.s=='sim. ii'"}],"mark":{"type":"point","shape":"square","fill":"#ffffff","stroke":"#888888","strokeWidth":1,"size":16,"opacity":1}},
  {"transform":[{"filter":"datum.s=='sim. iii'"}],"mark":{"type":"point","shape":"circle","fill":"#ffffff","stroke":"#666666","strokeWidth":1,"size":18,"opacity":1}},
  {"transform":[{"filter":"datum.s=='sim. iv'"}],"mark":{"type":"point","shape":"triangle-down","filled":true,"color":"#111111","size":26,"opacity":1}},
  {"transform":[{"filter":"datum.s=='obs.'"}],"mark":{"type":"point","shape":"triangle-up","filled":true,"color":"#1c22b0","size":26,"opacity":1}},
  {"transform":[{"filter":"datum.m>99"}],"mark":{"type":"point","opacity":1},"encoding":{"shape":{"field":"s","type":"nominal","scale":{"domain":["sim. i","sim. ii","sim. iii","sim. iv","obs."],"range":["M-2,0H2M-0.34,-0.34H0.34V0.34H-0.34Z","M-2,0H-0.34M0.34,0H2M-0.34,-0.34H0.34V0.34H-0.34Z","M-2,0H-0.36M0.36,0H2M-0.36,0A0.36,0.36,0,1,0,0.36,0A0.36,0.36,0,1,0,-0.36,0Z","M-2,-0.06H2M-2,0.06H2M-0.42,-0.32H0.42L0,0.42Z","M-2,0H-1.55M-1.15,0H-0.7M0.7,0H1.15M1.55,0H2M-0.42,0.32H0.42L0,-0.42Z"]},"legend":{"title":null}},"fill":{"field":"s","type":"nominal","scale":{"domain":["sim. i","sim. ii","sim. iii","sim. iv","obs."],"range":["#111111","#ffffff","#ffffff","#111111","#1c22b0"]},"legend":{"title":null}},"stroke":{"field":"s","type":"nominal","scale":{"domain":["sim. i","sim. ii","sim. iii","sim. iv","obs."],"range":["#333333","#888888","#666666","#111111","#3a48b0"]},"legend":{"title":null}}}}
 ]},
{"data":{"name":"h"},"width":237,"height":248,"title":{"text":"(h)","anchor":"start","frame":"group","offset":-25,"dx":7,"fontWeight":"normal","font":"Liberation Serif","fontSize":15,"color":"#111"},
 "encoding":{"x":{"field":"m","type":"quantitative","scale":{"domain":[0,12.4]},"axis":{"values":[1,2,3,4,5,6,7,8,9,10,11,12],"labelExpr":"['Jan','Feb','Mar','Apr','May','Jun','Jul','Aug','Sep','Oct','Nov','Dec'][datum.value-1]","title":null,"grid":false}},
  "y":{"field":"v","type":"quantitative","scale":{"domain":[0,80]},"axis":{"values":[0,20,40,60,80],"title":"Qs (kg s⁻¹)","titleX":-23,"grid":true,"gridOpacity":{"condition":{"test":"datum.value>=40 && datum.value<80","value":1},"value":0}}}},
 "layer":[
  {"mark":{"type":"line"},"encoding":{"color":{"field":"s","type":"nominal","scale":{"range":["#4a5ab0","#333333","#999999","#777777","#111111"]},"legend":null},"strokeDash":{"field":"s","type":"nominal","scale":{"range":[[4,3],[1,0],[1,0],[1,0],[1,0]]},"legend":null},"strokeWidth":{"field":"s","type":"nominal","scale":{"range":[1,1,1,1,1.8]},"legend":null}}},
  {"transform":[{"filter":"datum.s=='sim. i'"}],"mark":{"type":"point","shape":"square","filled":true,"color":"#111111","size":16,"opacity":1}},
  {"transform":[{"filter":"datum.s=='sim. ii'"}],"mark":{"type":"point","shape":"square","fill":"#ffffff","stroke":"#888888","strokeWidth":1,"size":16,"opacity":1}},
  {"transform":[{"filter":"datum.s=='sim. iii'"}],"mark":{"type":"point","shape":"circle","fill":"#ffffff","stroke":"#666666","strokeWidth":1,"size":18,"opacity":1}},
  {"transform":[{"filter":"datum.s=='sim. iv'"}],"mark":{"type":"point","shape":"triangle-down","filled":true,"color":"#111111","size":26,"opacity":1}},
  {"transform":[{"filter":"datum.s=='obs.'"}],"mark":{"type":"point","shape":"triangle-up","filled":true,"color":"#1c22b0","size":26,"opacity":1}},
  {"transform":[{"filter":"datum.m>99"}],"mark":{"type":"point","opacity":1},"encoding":{"shape":{"field":"s","type":"nominal","scale":{"domain":["sim. i","sim. ii","sim. iii","sim. iv","obs."],"range":["M-2,0H2M-0.34,-0.34H0.34V0.34H-0.34Z","M-2,0H-0.34M0.34,0H2M-0.34,-0.34H0.34V0.34H-0.34Z","M-2,0H-0.36M0.36,0H2M-0.36,0A0.36,0.36,0,1,0,0.36,0A0.36,0.36,0,1,0,-0.36,0Z","M-2,-0.06H2M-2,0.06H2M-0.42,-0.32H0.42L0,0.42Z","M-2,0H-1.55M-1.15,0H-0.7M0.7,0H1.15M1.55,0H2M-0.42,0.32H0.42L0,-0.42Z"]},"legend":{"title":null}},"fill":{"field":"s","type":"nominal","scale":{"domain":["sim. i","sim. ii","sim. iii","sim. iv","obs."],"range":["#111111","#ffffff","#ffffff","#111111","#1c22b0"]},"legend":{"title":null}},"stroke":{"field":"s","type":"nominal","scale":{"domain":["sim. i","sim. ii","sim. iii","sim. iv","obs."],"range":["#333333","#888888","#666666","#111111","#3a48b0"]},"legend":{"title":null}}}}
 ]},
{"data":{"name":"i"},"width":237,"height":248,"title":{"text":"(i)","anchor":"start","frame":"group","offset":-25,"dx":7,"fontWeight":"normal","font":"Liberation Serif","fontSize":15,"color":"#111"},
 "encoding":{"x":{"field":"m","type":"quantitative","scale":{"domain":[0,12.4]},"axis":{"values":[1,2,3,4,5,6,7,8,9,10,11,12],"labelExpr":"['Jan','Feb','Mar','Apr','May','Jun','Jul','Aug','Sep','Oct','Nov','Dec'][datum.value-1]","title":null,"grid":false}},
  "y":{"field":"v","type":"quantitative","scale":{"domain":[0,15]},"axis":{"values":[0,3,6,9,12,15],"title":"Qs (kg s⁻¹)","titleX":-22,"grid":true,"gridOpacity":{"condition":{"test":"datum.value>=6 && datum.value<15","value":1},"value":0}}}},
 "layer":[
  {"mark":{"type":"line"},"encoding":{"color":{"field":"s","type":"nominal","scale":{"range":["#4a5ab0","#333333","#999999","#777777","#111111"]},"legend":null},"strokeDash":{"field":"s","type":"nominal","scale":{"range":[[4,3],[1,0],[1,0],[1,0],[1,0]]},"legend":null},"strokeWidth":{"field":"s","type":"nominal","scale":{"range":[1,1,1,1,1.8]},"legend":null}}},
  {"transform":[{"filter":"datum.s=='sim. i'"}],"mark":{"type":"point","shape":"square","filled":true,"color":"#111111","size":16,"opacity":1}},
  {"transform":[{"filter":"datum.s=='sim. ii'"}],"mark":{"type":"point","shape":"square","fill":"#ffffff","stroke":"#888888","strokeWidth":1,"size":16,"opacity":1}},
  {"transform":[{"filter":"datum.s=='sim. iii'"}],"mark":{"type":"point","shape":"circle","fill":"#ffffff","stroke":"#666666","strokeWidth":1,"size":18,"opacity":1}},
  {"transform":[{"filter":"datum.s=='sim. iv'"}],"mark":{"type":"point","shape":"triangle-down","filled":true,"color":"#111111","size":26,"opacity":1}},
  {"transform":[{"filter":"datum.s=='obs.'"}],"mark":{"type":"point","shape":"triangle-up","filled":true,"color":"#1c22b0","size":26,"opacity":1}},
  {"transform":[{"filter":"datum.m>99"}],"mark":{"type":"point","opacity":1},"encoding":{"shape":{"field":"s","type":"nominal","scale":{"domain":["sim. i","sim. ii","sim. iii","sim. iv","obs."],"range":["M-2,0H2M-0.34,-0.34H0.34V0.34H-0.34Z","M-2,0H-0.34M0.34,0H2M-0.34,-0.34H0.34V0.34H-0.34Z","M-2,0H-0.36M0.36,0H2M-0.36,0A0.36,0.36,0,1,0,0.36,0A0.36,0.36,0,1,0,-0.36,0Z","M-2,-0.06H2M-2,0.06H2M-0.42,-0.32H0.42L0,0.42Z","M-2,0H-1.55M-1.15,0H-0.7M0.7,0H1.15M1.55,0H2M-0.42,0.32H0.42L0,-0.42Z"]},"legend":{"title":null}},"fill":{"field":"s","type":"nominal","scale":{"domain":["sim. i","sim. ii","sim. iii","sim. iv","obs."],"range":["#111111","#ffffff","#ffffff","#111111","#1c22b0"]},"legend":{"title":null}},"stroke":{"field":"s","type":"nominal","scale":{"domain":["sim. i","sim. ii","sim. iii","sim. iv","obs."],"range":["#333333","#888888","#666666","#111111","#3a48b0"]},"legend":{"title":null}}}}
 ]}
]
}
